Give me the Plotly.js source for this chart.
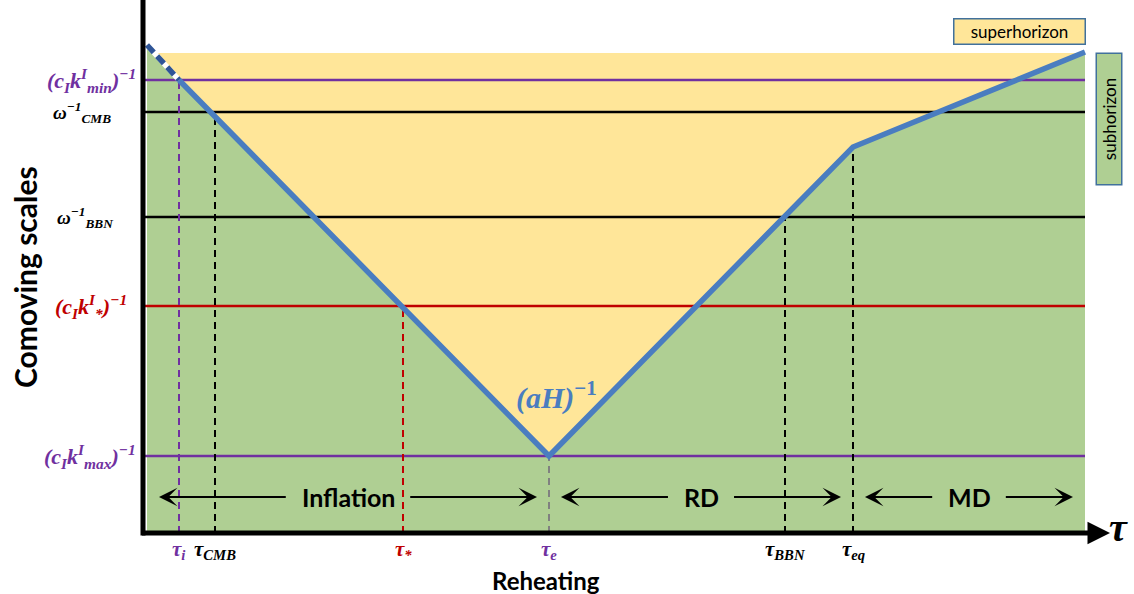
<!DOCTYPE html>
<html><head><meta charset="utf-8">
<script src="https://cdn.plot.ly/plotly-3.0.1.min.js"></script>
<style>html,body{margin:0;padding:0;background:#fff}</style>
</head><body><div id="chart" style="width:1134px;height:594px"></div>
<script>
// ---------------- data (τ in arbitrary units, comoving scale in arbitrary units) ----------------
const horizonTau   = [0.4, 3.6, 40.6, 71.0, 94.2];
const horizonScale = [48.8, 45.3, 7.7, 38.6, 48.1];
const superhorizonTop = 48.0;

const scaleLabels = [
  '(c<sub>I</sub>k<sup>I</sup><sub>min</sub>)<sup>−1</sup>',
  'ω<sup>−1</sup><sub>CMB</sub>',
  'ω<sup>−1</sup><sub>BBN</sub>',
  '(c<sub>I</sub>k<sup>I</sup><sub>*</sub>)<sup>−1</sup>',
  '(c<sub>I</sub>k<sup>I</sup><sub>max</sub>)<sup>−1</sup>'
];
const scaleValues = [45.3, 42.1, 31.6, 22.7, 7.7];

const eventLabels = ['τ<sub>i</sub>', 'τ<sub>CMB</sub>', 'τ<sub>*</sub>', 'τ<sub>e</sub>', 'τ<sub>BBN</sub>', 'τ<sub>eq</sub>'];
const eventTau    = [3.6, 7.2, 26.0, 40.6, 64.2, 71.0];
const eventScale  = [45.3, 42.1, 22.7, 7.7, 31.6, 38.6];

const phaseNames  = ['Inflation', 'RD', 'MD'];
const phaseBounds = [0.4, 40.6, 71.0, 94.2];

// ---------------- styles ----------------
const PURPLE = '#7030A0', RED = '#C00000', BLACK = '#000000', GRAY = '#808080';
const GREEN = '#AFCF93', YELLOW = '#FFE699', BLUE = '#4A7DC0', DARKBLUE = '#2F5597';
const scaleColors = [PURPLE, BLACK, BLACK, RED, PURPLE];
const scaleLabelShift = [-5, -30, -28, -14, -5];
const scaleLabelSize = [22, 19, 19, 22, 22];
const eventLineColors = [PURPLE, BLACK, RED, GRAY, BLACK, BLACK];
const eventLabelColors = [PURPLE, BLACK, RED, PURPLE, BLACK, BLACK];
const MATH = 'Liberation Serif';
const SANS = 'Lato';
const last = horizonTau.length - 1;
const arrowRowY = 3.6;

const traces = [];
const base = {type: 'scatter', mode: 'lines', hoverinfo: 'skip', showlegend: false};

// superhorizon (yellow) region
traces.push(Object.assign({}, base, {
  x: [horizonTau[0], horizonTau[last]], y: [superhorizonTop, superhorizonTop],
  fill: 'tozeroy', fillcolor: YELLOW, line: {width: 0}
}));
// subhorizon (green) region
traces.push(Object.assign({}, base, {
  x: horizonTau, y: horizonScale, fill: 'tozeroy', fillcolor: GREEN, line: {width: 0}
}));
// horizontal scale lines
scaleValues.forEach((v, i) => {
  traces.push(Object.assign({}, base, {
    x: [0, horizonTau[last]], y: [v, v], line: {color: scaleColors[i], width: 2.5}
  }));
});
// vertical dashed event lines
eventTau.forEach((t, i) => {
  traces.push(Object.assign({}, base, {
    x: [t, t], y: [0, eventScale[i]], line: {color: eventLineColors[i], width: 2, dash: '7px,5px'}
  }));
});
// horizon line: white under-stroke for dashed part, solid part, dashed part
traces.push(Object.assign({}, base, {
  x: horizonTau.slice(0, 2), y: horizonScale.slice(0, 2), line: {color: '#ffffff', width: 5.5}
}));
traces.push(Object.assign({}, base, {
  x: horizonTau.slice(1), y: horizonScale.slice(1), line: {color: BLUE, width: 5.5}
}));
traces.push(Object.assign({}, base, {
  x: horizonTau.slice(0, 2), y: horizonScale.slice(0, 2), line: {color: DARKBLUE, width: 5.5, dash: '10px,5px'}
}));

// ---------------- annotations ----------------
const ann = [];
function bi(s) { return '<b><i>' + s + '</i></b>'; }

scaleLabels.forEach((lab, i) => {
  ann.push({x: 0, y: scaleValues[i], xref: 'x', yref: 'y', xanchor: 'right', yanchor: 'middle',
    xshift: scaleLabelShift[i], showarrow: false, text: bi(lab),
    font: {family: MATH, size: scaleLabelSize[i], color: scaleColors[i]}});
});
eventLabels.forEach((lab, i) => {
  ann.push({x: eventTau[i], y: 0, xref: 'x', yref: 'y', xanchor: 'center', yanchor: 'top',
    yshift: -2, showarrow: false, text: bi(lab),
    font: {family: MATH, size: 21, color: eventLabelColors[i]}});
});

// phase arrows
const cv = document.createElement('canvas').getContext('2d');
cv.font = 'bold 25px ' + SANS;
const inset = 1.2, gap = 1.4;
phaseNames.forEach((name, i) => {
  const a = phaseBounds[i], b = phaseBounds[i + 1];
  const c = (a + b) / 2;
  const hw = cv.measureText(name).width / 2 / 10;
  ann.push({x: c, y: arrowRowY, xref: 'x', yref: 'y', xanchor: 'center', yanchor: 'middle', showarrow: false,
    text: '<b>' + name + '</b>', font: {family: SANS, size: 25, color: BLACK}});
  ann.push({x: a + inset, y: arrowRowY, ax: c - hw - gap, ay: arrowRowY, xref: 'x', yref: 'y',
    axref: 'x', ayref: 'y', text: '', showarrow: true, arrowhead: 3, arrowsize: 1.4, arrowwidth: 2.2, arrowcolor: BLACK});
  ann.push({x: b - inset, y: arrowRowY, ax: c + hw + gap, ay: arrowRowY, xref: 'x', yref: 'y',
    axref: 'x', ayref: 'y', text: '', showarrow: true, arrowhead: 3, arrowsize: 1.4, arrowwidth: 2.2, arrowcolor: BLACK});
});

// horizontal axis with arrow
ann.push({x: 96.7, y: 0, ax: -0.25, ay: 0, xref: 'x', yref: 'y', axref: 'x', ayref: 'y',
  text: '', showarrow: true, arrowhead: 2, arrowsize: 0.9, arrowwidth: 5, arrowcolor: BLACK});
ann.push({x: 1118 / 1134, y: 1 - 527 / 594, xref: 'paper', yref: 'paper', xanchor: 'center', yanchor: 'middle',
  showarrow: false, text: bi('τ'), font: {family: MATH, size: 40, color: BLACK}});

// horizon label
ann.push({x: horizonTau[2], y: horizonScale[2], xref: 'x', yref: 'y', xanchor: 'center', yanchor: 'middle',
  xshift: 7, yshift: 61, showarrow: false,
  text: '<b><i>(aH)</i></b><b><sup>−1</sup></b>', font: {family: MATH, size: 30, color: BLUE}});

// axis titles
ann.push({x: 546 / 1134, y: 1 - 580 / 594, xref: 'paper', yref: 'paper', xanchor: 'center', yanchor: 'middle',
  showarrow: false, text: '<b>Reheating</b>', font: {family: SANS, size: 24, color: BLACK}});
ann.push({x: 25 / 1134, y: 1 - 277 / 594, xref: 'paper', yref: 'paper', xanchor: 'center', yanchor: 'middle',
  showarrow: false, textangle: -90, text: '<b>Comoving scales</b>', font: {family: SANS, size: 30, color: BLACK}});

// region key boxes
ann.push({x: 1019.5 / 1134, y: 1 - 31 / 594, xref: 'paper', yref: 'paper', xanchor: 'center', yanchor: 'middle',
  showarrow: false, text: 'superhorizon', font: {family: SANS, size: 17, color: BLACK},
  bgcolor: YELLOW, bordercolor: '#41719C', borderwidth: 1.5, borderpad: 1, width: 128, height: 22});
ann.push({x: 1108.5 / 1134, y: 1 - 119 / 594, xref: 'paper', yref: 'paper', xanchor: 'center', yanchor: 'middle',
  showarrow: false, textangle: -90, text: 'subhorizon', font: {family: SANS, size: 17, color: BLACK},
  bgcolor: GREEN, bordercolor: '#41719C', borderwidth: 1.5, borderpad: 1, width: 128, height: 22});

const layout = {
  width: 1134, height: 594,
  margin: {l: 0, r: 0, t: 0, b: 0},
  paper_bgcolor: '#ffffff', plot_bgcolor: '#ffffff',
  xaxis: {range: [-14.3, 99.1], visible: false, fixedrange: true},
  yaxis: {range: [-6.1, 53.3], visible: false, fixedrange: true},
  showlegend: false,
  shapes: [
    {type: 'line', xref: 'x', yref: 'y', x0: 0, x1: 0, y0: -0.25, y1: 53.3, line: {color: BLACK, width: 5}}
  ],
  annotations: ann
};

Plotly.newPlot('chart', traces, layout, {staticPlot: true, displayModeBar: false});
</script>
</body></html>
